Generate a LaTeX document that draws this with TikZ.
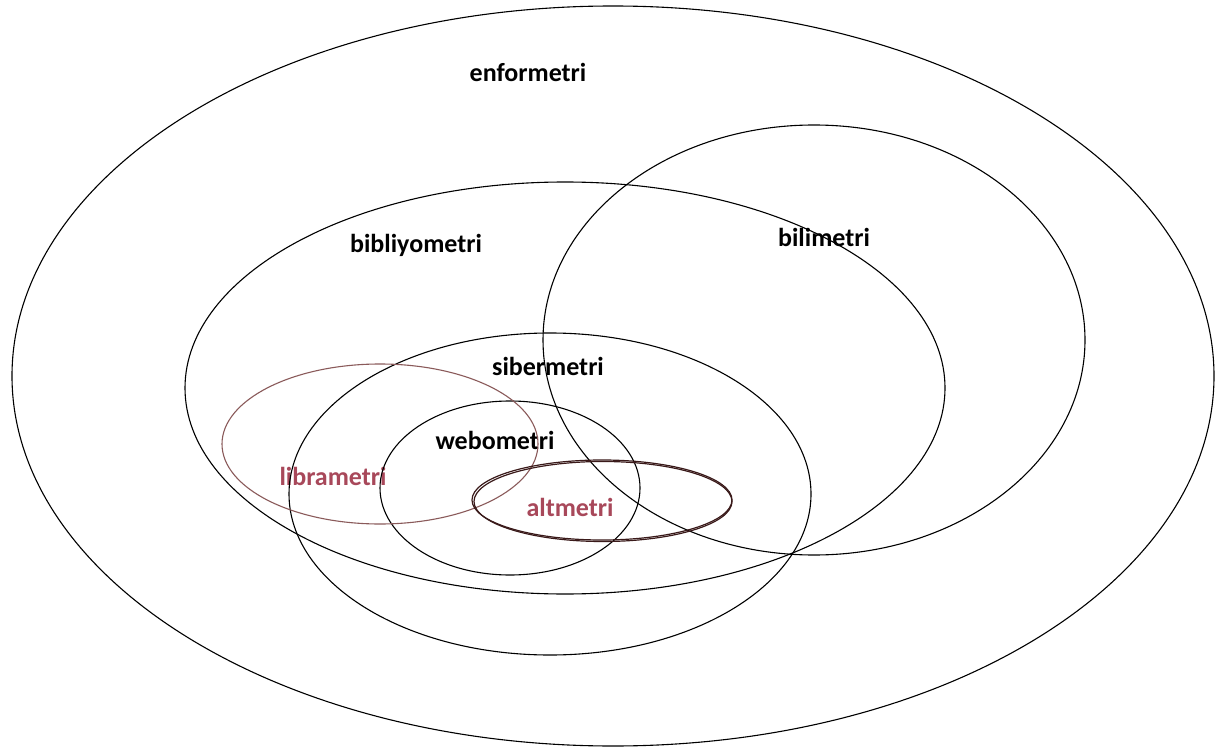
\documentclass[tikz,border=0pt]{standalone}
\usepackage{fontspec}
\setmainfont{Carlito}
\definecolor{redtext}{HTML}{A8485A}
\definecolor{libline}{HTML}{8A5A5A}
\definecolor{altline}{HTML}{3A1A1A}
\begin{document}
\begin{tikzpicture}[x=1pt,y=-1pt,
  ring/.style={draw=black,line width=1.1pt},
  lbl/.style={font=\fontsize{26}{30}\selectfont\bfseries,inner sep=0pt,anchor=center},
  redlbl/.style={lbl,text=redtext}]
\useasboundingbox (0,0) rectangle (1217,751);
\fill[white] (0,0) rectangle (1217,751);
% labels
\node[lbl] (enf) at (528,72) {enformetri};
\node[lbl] (bib) at (416,245) {bibliyometri};
\node[lbl] (bil) at (824,237) {bilimetri};
\node[lbl] (sib) at (548,366) {sibermetri};
\node[lbl] (web) at (495,440) {webometri};
\node[redlbl] (lib) at (333,476) {librametri};
\node[redlbl] (alt) at (570,507) {altmetri};
% sets
\draw[ring] (613,376) ellipse [x radius=601, y radius=370];
\draw[ring] (565,388) ellipse [x radius=380, y radius=206];
\draw[ring] (814,340) ellipse [x radius=271, y radius=215];
\draw[ring] (550,494) ellipse [x radius=261, y radius=161];
\draw[ring] (510,488) ellipse [x radius=130, y radius=87];
\draw[draw=libline,line width=1.1pt] (380,444) ellipse [x radius=158, y radius=80];
\draw[draw=altline,line width=1.2pt] (602,500) ellipse [x radius=130, y radius=40];
\draw[draw=altline,line width=1.2pt] (603,501.5) ellipse [x radius=129, y radius=40];
\end{tikzpicture}
\end{document}
